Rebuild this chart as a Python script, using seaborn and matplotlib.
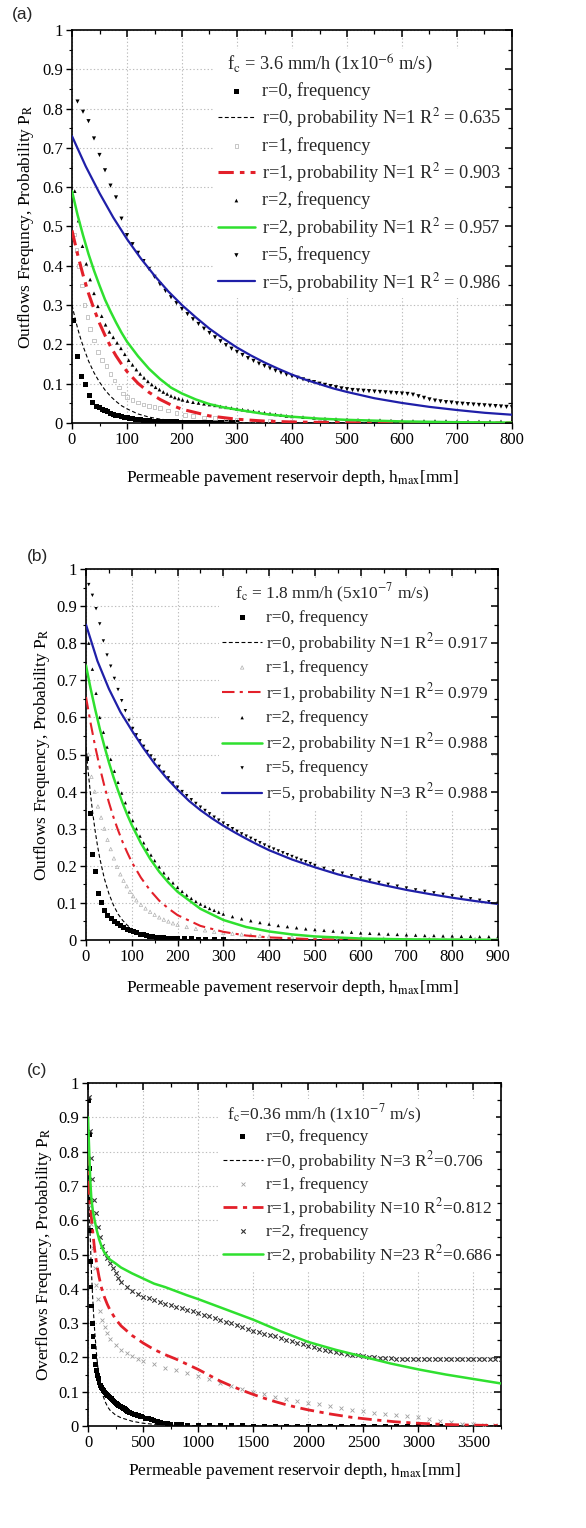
import numpy as np
import pandas as pd
import matplotlib
matplotlib.use("Agg")
import matplotlib.pyplot as plt
import seaborn as sns
from matplotlib.ticker import MultipleLocator, FuncFormatter

# ---------------- Panel (a) data: fc = 3.6 mm/h ----------------
a_r0_freq_h = [3, 10, 17, 24, 31, 38, 45, 50, 55, 60, 65, 70, 75, 80, 85, 90, 95, 100, 105, 110, 115, 120, 125, 130,
               135, 140, 145, 150, 160, 170, 180, 190, 200, 210, 220, 230, 240, 250, 260, 270, 280, 290, 300]
a_r0_freq_p = [0.26, 0.168, 0.118, 0.097, 0.069, 0.051, 0.043, 0.039, 0.035, 0.031, 0.028, 0.025, 0.022, 0.020, 0.018,
               0.016, 0.014, 0.013, 0.012, 0.011, 0.010, 0.009, 0.008, 0.007, 0.006, 0.006, 0.005, 0.005, 0.004, 0.004,
               0.003, 0.003, 0.002, 0.002, 0.002, 0.001, 0.001, 0.001, 0.001, 0.001, 0.0005, 0.0005, 0.0]
a_r0_prob_h = [0, 5, 10, 15, 20, 30, 40, 50, 60, 70, 80, 90, 100, 120, 140, 160, 180, 200, 250, 300, 400, 800]
a_r0_prob_p = [0.300, 0.270, 0.242, 0.218, 0.196, 0.158, 0.128, 0.104, 0.084, 0.068, 0.055, 0.044, 0.036, 0.023,
               0.015, 0.010, 0.0065, 0.0043, 0.0015, 0.0005, 0.0, 0.0]
a_r1_freq_h = [4, 8, 13, 18, 23, 28, 33, 40, 47, 55, 63, 70, 77, 85, 93, 100, 110, 120, 130, 140, 150, 160, 175, 190,
               205, 220, 240, 260, 280, 300, 330, 360, 400, 450, 500]
a_r1_freq_p = [0.48, 0.44, 0.40, 0.35, 0.30, 0.27, 0.24, 0.21, 0.18, 0.16, 0.145, 0.125, 0.108, 0.09, 0.075, 0.067,
               0.058, 0.052, 0.047, 0.044, 0.041, 0.038, 0.032, 0.026, 0.021, 0.017, 0.014, 0.012, 0.010, 0.008,
               0.006, 0.005, 0.004, 0.003, 0.002]
a_r1_prob_h = [0, 10, 20, 30, 40, 50, 60, 70, 80, 90, 100, 120, 140, 160, 180, 200, 250, 300, 350, 400, 500, 600, 800]
a_r1_prob_p = [0.490, 0.430, 0.377, 0.330, 0.290, 0.254, 0.223, 0.195, 0.171, 0.150, 0.131, 0.101, 0.078, 0.060,
               0.046, 0.035, 0.018, 0.0095, 0.0049, 0.0025, 0.0007, 0.0002, 0.0]
a_r2_freq_h = [5, 12, 19, 26, 33, 40, 47, 54, 61, 68, 75, 82, 89, 96, 103, 110, 117, 124, 131, 138, 145, 152, 159,
               166, 173, 180, 187, 194, 201, 210, 220, 230, 240, 250, 260, 270, 280, 290, 300, 310, 320, 330, 340,
               350, 360, 370, 380, 390, 400, 420, 440, 460, 480, 500, 520, 540, 560, 580, 600, 620, 640, 660, 680,
               700, 720, 740, 760, 780, 800]
a_r2_freq_p = [0.59, 0.515, 0.45, 0.405, 0.365, 0.33, 0.297, 0.272, 0.25, 0.232, 0.218, 0.204, 0.19, 0.175, 0.16,
               0.148, 0.136, 0.125, 0.115, 0.106, 0.098, 0.091, 0.085, 0.079, 0.074, 0.069, 0.065, 0.062, 0.059,
               0.056, 0.053, 0.051, 0.049, 0.047, 0.045, 0.042, 0.040, 0.038, 0.036, 0.034, 0.032, 0.030, 0.028,
               0.026, 0.024, 0.022, 0.020, 0.018, 0.017, 0.015, 0.013, 0.011, 0.010, 0.009, 0.008, 0.007, 0.007,
               0.006, 0.006, 0.005, 0.005, 0.005, 0.005, 0.004, 0.004, 0.004, 0.004, 0.004, 0.004]
a_r2_prob_h = [0, 10, 20, 30, 40, 50, 60, 70, 80, 90, 100, 120, 140, 160, 180, 200, 225, 250, 275, 300, 350, 400,
               450, 500, 550, 600, 700, 800]
a_r2_prob_p = [0.590, 0.530, 0.478, 0.430, 0.388, 0.350, 0.314, 0.284, 0.256, 0.230, 0.207, 0.170, 0.138, 0.112,
               0.090, 0.075, 0.060, 0.048, 0.040, 0.034, 0.023, 0.016, 0.011, 0.008, 0.006, 0.004, 0.002, 0.001]
a_r5_freq_h = [10, 20, 30, 40, 50, 60, 70, 80, 90, 100, 110, 120, 130, 140, 150, 160, 170, 180, 190, 200, 210, 220,
               230, 240, 250, 260, 270, 280, 290, 300, 310, 320, 330, 340, 350, 360, 370, 380, 390, 400, 410, 420,
               430, 440, 450, 460, 470, 480, 490, 500, 510, 520, 530, 540, 550, 560, 570, 580, 590, 600, 610, 620,
               630, 640, 650, 660, 670, 680, 690, 700, 710, 720, 730, 740, 750, 760, 770, 780, 790, 800]
a_r5_freq_p = [0.818, 0.792, 0.768, 0.724, 0.682, 0.643, 0.604, 0.574, 0.520, 0.478, 0.455, 0.433, 0.412, 0.392,
               0.372, 0.353, 0.336, 0.320, 0.305, 0.290, 0.277, 0.264, 0.252, 0.240, 0.229, 0.218, 0.208, 0.198,
               0.189, 0.181, 0.173, 0.165, 0.158, 0.151, 0.145, 0.139, 0.133, 0.128, 0.123, 0.119, 0.115, 0.111,
               0.107, 0.104, 0.100, 0.097, 0.094, 0.091, 0.088, 0.086, 0.084, 0.083, 0.082, 0.081, 0.080, 0.079,
               0.078, 0.077, 0.076, 0.075, 0.074, 0.072, 0.068, 0.064, 0.060, 0.057, 0.055, 0.053, 0.052, 0.050,
               0.049, 0.048, 0.047, 0.046, 0.045, 0.044, 0.043, 0.042, 0.041, 0.040]
a_r5_prob_h = [0, 25, 50, 75, 100, 125, 150, 175, 200, 225, 250, 275, 300, 325, 350, 375, 400, 425, 450, 475, 500,
               550, 600, 650, 700, 750, 800]
a_r5_prob_p = [0.730, 0.653, 0.585, 0.523, 0.468, 0.419, 0.375, 0.335, 0.300, 0.269, 0.240, 0.215, 0.192, 0.172,
               0.154, 0.138, 0.123, 0.110, 0.099, 0.088, 0.079, 0.063, 0.051, 0.041, 0.033, 0.026, 0.021]
a_labels = ["r=0, frequency", "r=0, probability N=1 R$^2$ = 0.635", "r=1, frequency",
            "r=1, probability N=1 R$^2$ = 0.903", "r=2, frequency", "r=2, probability N=1 R$^2$ = 0.957",
            "r=5, frequency", "r=5, probability N=1 R$^2$ = 0.986"]
a_title = "  f$_\\mathrm{c}$ = 3.6 mm/h (1x10$^{-6}$ m/s)"

# ---------------- Panel (b) data: fc = 1.8 mm/h ----------------
b_r0_freq_h = [2, 9, 14, 20, 27, 34, 41, 48, 55, 62, 69, 76, 83, 90, 97, 104, 111, 118, 125, 132, 139, 146, 153,
               160, 170, 180, 190, 200, 215, 230, 245, 260, 280, 300]
b_r0_freq_p = [0.49, 0.34, 0.23, 0.185, 0.125, 0.10, 0.08, 0.065, 0.057, 0.05, 0.045, 0.04, 0.034, 0.029, 0.025,
               0.022, 0.019, 0.016, 0.014, 0.012, 0.010, 0.009, 0.008, 0.007, 0.006, 0.005, 0.004, 0.004, 0.003,
               0.003, 0.002, 0.002, 0.001, 0.001]
b_r0_prob_h = [0, 5, 10, 15, 20, 25, 30, 40, 50, 60, 70, 80, 90, 100, 120, 140, 160, 180, 200, 250, 300, 900]
b_r0_prob_p = [0.520, 0.451, 0.391, 0.339, 0.294, 0.255, 0.221, 0.166, 0.125, 0.094, 0.070, 0.053, 0.040, 0.030,
               0.017, 0.0095, 0.0054, 0.003, 0.0017, 0.0004, 0.0001, 0.0]
b_r1_freq_h = [5, 12, 19, 26, 33, 40, 47, 54, 61, 68, 75, 82, 89, 96, 103, 110, 120, 130, 140, 150, 160, 170, 180,
               190, 200, 220, 240, 260, 280, 300, 320, 340, 360, 380, 400, 450, 500, 550, 600, 650, 700, 750, 800,
               850, 900]
b_r1_freq_p = [0.50, 0.44, 0.40, 0.36, 0.33, 0.30, 0.27, 0.245, 0.22, 0.197, 0.177, 0.16, 0.145, 0.13, 0.118, 0.107,
               0.095, 0.085, 0.076, 0.068, 0.061, 0.055, 0.050, 0.045, 0.041, 0.035, 0.030, 0.026, 0.022, 0.019,
               0.017, 0.015, 0.013, 0.011, 0.010, 0.008, 0.007, 0.006, 0.005, 0.004, 0.004, 0.003, 0.003, 0.003,
               0.003]
b_r1_prob_h = [0, 10, 20, 30, 40, 50, 60, 70, 80, 90, 100, 120, 140, 160, 180, 200, 250, 300, 350, 400, 500, 600, 900]
b_r1_prob_p = [0.655, 0.585, 0.522, 0.466, 0.416, 0.371, 0.331, 0.296, 0.264, 0.236, 0.210, 0.168, 0.134, 0.106,
               0.085, 0.067, 0.038, 0.022, 0.012, 0.007, 0.002, 0.001, 0.0]
b_r2_freq_h = [6, 14, 22, 30, 38, 46, 54, 62, 70, 78, 86, 94, 102, 110, 118, 126, 134, 142, 150, 160, 170, 180, 190,
               200, 210, 220, 230, 240, 250, 260, 270, 280, 290, 300, 320, 340, 360, 380, 400, 420, 440, 460, 480,
               500, 520, 540, 560, 580, 600, 620, 640, 660, 680, 700, 720, 740, 760, 780, 800, 820, 840, 860, 880, 900]
b_r2_freq_p = [0.80, 0.73, 0.665, 0.60, 0.56, 0.52, 0.487, 0.455, 0.425, 0.396, 0.37, 0.345, 0.322, 0.30, 0.28,
               0.262, 0.245, 0.229, 0.214, 0.197, 0.181, 0.167, 0.154, 0.142, 0.131, 0.121, 0.112, 0.104, 0.097,
               0.091, 0.085, 0.080, 0.075, 0.070, 0.063, 0.057, 0.052, 0.047, 0.043, 0.039, 0.036, 0.033, 0.030,
               0.028, 0.026, 0.024, 0.022, 0.021, 0.019, 0.018, 0.017, 0.016, 0.015, 0.014, 0.013, 0.012, 0.012,
               0.011, 0.011, 0.010, 0.010, 0.009, 0.009, 0.009]
b_r2_prob_h = [0, 10, 20, 30, 40, 50, 60, 70, 80, 90, 100, 120, 140, 160, 180, 200, 250, 300, 350, 400, 450, 500,
               600, 700, 900]
b_r2_prob_p = [0.740, 0.678, 0.622, 0.570, 0.523, 0.479, 0.439, 0.403, 0.369, 0.338, 0.310, 0.261, 0.219, 0.184,
               0.155, 0.130, 0.084, 0.054, 0.035, 0.023, 0.015, 0.0096, 0.004, 0.0017, 0.0003]
b_r5_freq_h = [6, 14, 22, 30, 38, 46, 54, 62, 70, 78, 86, 94, 102, 110, 118, 126, 134, 142, 150, 160, 170, 180, 190,
               200, 210, 220, 230, 240, 250, 260, 270, 280, 290, 300, 310, 320, 330, 340, 350, 360, 370, 380, 390,
               400, 410, 420, 430, 440, 450, 460, 470, 480, 490, 500, 520, 540, 560, 580, 600, 620, 640, 660, 680,
               700, 720, 740, 760, 780, 800, 820, 840, 860, 880, 900]
b_r5_freq_p = [0.958, 0.929, 0.893, 0.852, 0.806, 0.768, 0.738, 0.705, 0.675, 0.645, 0.618, 0.592, 0.570, 0.553,
               0.537, 0.522, 0.508, 0.496, 0.485, 0.468, 0.452, 0.437, 0.423, 0.412, 0.400, 0.389, 0.378, 0.368,
               0.358, 0.349, 0.340, 0.331, 0.323, 0.315, 0.308, 0.300, 0.293, 0.286, 0.280, 0.274, 0.268, 0.262,
               0.256, 0.250, 0.245, 0.240, 0.235, 0.230, 0.225, 0.220, 0.215, 0.211, 0.206, 0.201, 0.193, 0.186,
               0.180, 0.173, 0.167, 0.161, 0.155, 0.150, 0.145, 0.140, 0.135, 0.131, 0.127, 0.123, 0.119, 0.115,
               0.111, 0.107, 0.103, 0.099]
b_r5_prob_h = [0, 25, 50, 75, 100, 125, 150, 175, 200, 225, 250, 275, 300, 325, 350, 375, 400, 450, 500, 550, 600,
               650, 700, 750, 800, 850, 900]
b_r5_prob_p = [0.850, 0.752, 0.677, 0.615, 0.565, 0.518, 0.475, 0.438, 0.405, 0.375, 0.350, 0.328, 0.308, 0.290,
               0.273, 0.257, 0.242, 0.217, 0.196, 0.177, 0.162, 0.148, 0.135, 0.124, 0.114, 0.105, 0.097]
b_labels = ["r=0, frequency", "r=0, probability N=1 R$^2$= 0.917", "r=1, frequency",
            "r=1, probability N=1 R$^2$= 0.979", "r=2, frequency", "r=2, probability N=1 R$^2$= 0.988",
            "r=5, frequency", "r=5, probability N=3 R$^2$= 0.988"]
b_title = "   f$_\\mathrm{c}$ = 1.8 mm/h (5x10$^{-7}$ m/s)"

# ---------------- Panel (c) data: fc = 0.36 mm/h ----------------
c_r0_freq_h = [5, 10, 13, 17, 20, 24, 28, 33, 39, 45, 52, 60, 68, 76, 84, 92, 100, 110, 120, 130, 140, 150, 160,
               170, 180, 190, 200, 210, 220, 230, 240, 250, 260, 270, 280, 290, 300, 310, 320, 330, 340, 350, 360,
               370, 380, 390, 400, 410, 420, 430, 440, 450, 460, 470, 480, 490, 500, 525, 550, 575, 600, 630, 660,
               690, 720, 750, 800, 850, 900, 1000, 1100, 1200, 1300, 1400, 1500, 1600, 1700, 1800, 1900, 2000,
               2100, 2200, 2300, 2400, 2500, 2600, 2700, 2800, 2900, 3000, 3100, 3200, 3300]
c_r0_freq_p = [0.95, 0.85, 0.75, 0.66, 0.57, 0.48, 0.405, 0.35, 0.30, 0.262, 0.232, 0.203, 0.18, 0.162, 0.148,
               0.138, 0.128, 0.119, 0.113, 0.108, 0.103, 0.099, 0.096, 0.093, 0.089, 0.086, 0.082, 0.079, 0.076,
               0.073, 0.070, 0.067, 0.065, 0.062, 0.060, 0.058, 0.056, 0.054, 0.052, 0.050, 0.047, 0.045, 0.043,
               0.041, 0.039, 0.038, 0.037, 0.035, 0.034, 0.033, 0.032, 0.031, 0.030, 0.029, 0.028, 0.027, 0.026,
               0.023, 0.021, 0.018, 0.016, 0.013, 0.011, 0.009, 0.008, 0.006, 0.005, 0.004, 0.003, 0.002, 0.001,
               0.001, 0.001, 0.001, 0.0, 0.0, 0.0, 0.0, 0.0, 0.0, 0.0, 0.0, 0.0, 0.0, 0.0, 0.0, 0.0, 0.0, 0.0,
               0.0, 0.0, 0.0, 0.0]
c_r0_prob_h = [0, 10, 20, 30, 40, 50, 60, 70, 80, 90, 100, 120, 140, 160, 180, 200, 250, 300, 400, 500, 600, 800,
               1000, 1500, 3750]
c_r0_prob_p = [0.75, 0.64, 0.55, 0.46, 0.39, 0.33, 0.28, 0.24, 0.20, 0.17, 0.145, 0.11, 0.085, 0.068, 0.055, 0.046,
               0.032, 0.024, 0.014, 0.008, 0.005, 0.002, 0.001, 0.0, 0.0]
c_r1_freq_h = [10, 20, 30, 45, 60, 75, 90, 110, 130, 150, 175, 200, 250, 300, 350, 400, 450, 500, 600, 700, 800,
               900, 1000, 1100, 1200, 1300, 1400, 1500, 1600, 1700, 1800, 1900, 2000, 2100, 2200, 2300, 2400,
               2500, 2600, 2700, 2800, 2900, 3000, 3100, 3200, 3300, 3400, 3500, 3600, 3700]
c_r1_freq_p = [0.70, 0.64, 0.59, 0.52, 0.46, 0.41, 0.37, 0.335, 0.31, 0.29, 0.27, 0.255, 0.235, 0.222, 0.212,
               0.203, 0.196, 0.19, 0.18, 0.17, 0.162, 0.154, 0.146, 0.136, 0.126, 0.117, 0.108, 0.100, 0.093,
               0.086, 0.080, 0.074, 0.068, 0.063, 0.058, 0.053, 0.048, 0.043, 0.039, 0.035, 0.032, 0.029, 0.025,
               0.021, 0.016, 0.011, 0.007, 0.005, 0.004, 0.003]
c_r1_prob_h = [0, 10, 20, 30, 45, 60, 80, 100, 125, 150, 175, 200, 250, 300, 400, 500, 600, 700, 800, 900, 1000,
               1100, 1200, 1300, 1400, 1500, 1600, 1700, 1800, 1900, 2000, 2200, 2400, 2600, 2800, 3000, 3200,
               3400, 3600, 3750]
c_r1_prob_p = [0.80, 0.69, 0.645, 0.61, 0.56, 0.515, 0.47, 0.435, 0.40, 0.375, 0.355, 0.338, 0.312, 0.292, 0.264,
               0.242, 0.223, 0.208, 0.195, 0.18, 0.165, 0.148, 0.131, 0.117, 0.104, 0.092, 0.081, 0.071, 0.062,
               0.054, 0.047, 0.035, 0.025, 0.018, 0.012, 0.008, 0.005, 0.003, 0.002, 0.001]
c_r2_freq_h = [5, 15, 25, 35, 50, 70, 90, 110, 130, 150, 175, 200, 225, 250, 275, 300, 350, 400, 450, 500, 550,
               600, 650, 700, 750, 800, 850, 900, 950, 1000, 1050, 1100, 1150, 1200, 1250, 1300, 1350, 1400, 1450,
               1500, 1550, 1600, 1650, 1700, 1750, 1800, 1850, 1900, 1950, 2000, 2050, 2100, 2150, 2200, 2250,
               2300, 2350, 2400, 2450, 2500, 2550, 2600, 2650, 2700, 2750, 2800, 2850, 2900, 2950, 3000, 3050,
               3100, 3150, 3200, 3250, 3300, 3350, 3400, 3450, 3500, 3550, 3600, 3650, 3700, 3750]
c_r2_freq_p = [0.96, 0.86, 0.78, 0.72, 0.66, 0.62, 0.58, 0.55, 0.525, 0.505, 0.49, 0.475, 0.46, 0.445, 0.432,
               0.42, 0.405, 0.395, 0.385, 0.377, 0.372, 0.367, 0.362, 0.357, 0.352, 0.348, 0.344, 0.339, 0.334,
               0.330, 0.325, 0.320, 0.314, 0.309, 0.304, 0.299, 0.294, 0.288, 0.283, 0.278, 0.273, 0.269, 0.265,
               0.261, 0.257, 0.252, 0.247, 0.243, 0.238, 0.234, 0.229, 0.225, 0.222, 0.219, 0.216, 0.213, 0.210,
               0.208, 0.206, 0.204, 0.202, 0.200, 0.199, 0.198, 0.197, 0.196, 0.195, 0.195, 0.194, 0.194, 0.194,
               0.194, 0.194, 0.194, 0.194, 0.194, 0.194, 0.194, 0.194, 0.194, 0.194, 0.194, 0.194, 0.194, 0.194]
c_r2_prob_h = [0, 10, 20, 30, 45, 60, 80, 100, 125, 150, 200, 250, 300, 400, 500, 600, 700, 800, 900, 1000, 1100,
               1200, 1300, 1400, 1500, 1750, 2000, 2250, 2500, 2750, 3000, 3250, 3500, 3750]
c_r2_prob_p = [0.90, 0.81, 0.72, 0.665, 0.625, 0.60, 0.57, 0.545, 0.522, 0.505, 0.485, 0.474, 0.462, 0.445, 0.43,
               0.415, 0.405, 0.393, 0.381, 0.37, 0.358, 0.346, 0.334, 0.322, 0.31, 0.276, 0.245, 0.222, 0.202,
               0.182, 0.165, 0.150, 0.137, 0.124]
c_labels = ["r=0, frequency", "r=0, probability N=3 R$^2$=0.706", "r=1, frequency",
            "r=1, probability N=10 R$^2$=0.812", "r=2, frequency", "r=2, probability N=23 R$^2$=0.686"]
c_title = " f$_\\mathrm{c}$=0.36 mm/h (1x10$^{-7}$ m/s)"

XLABEL = "Permeable pavement reservoir depth, h$_\\mathrm{max}$[mm]"

# ---------------- styling ----------------
sns.set_theme(style="white")
plt.rcParams['font.family'] = ['Liberation Serif', 'DejaVu Serif']
plt.rcParams['mathtext.fontset'] = 'stix'
plt.rcParams['axes.edgecolor'] = 'black'
plt.rcParams['axes.linewidth'] = 1.2

BLUE = '#1f1fa8'
GREEN = '#2fe02f'
RED = '#e3202a'
DASH = (0, (3.5, 2.2))

fig = plt.figure(figsize=(5.86, 15.28), dpi=100)
W, H = 586.0, 1528.0


def add_ax(left, top, right, bottom):
    return fig.add_axes([left / W, 1 - bottom / H, (right - left) / W, (bottom - top) / H])


def scatter(ax, h, p, label, **kw):
    sns.scatterplot(x=h, y=p, ax=ax, label=label, legend=False, zorder=3, **kw)


def line(ax, h, p, label, **kw):
    sns.lineplot(x=h, y=p, ax=ax, label=label, legend=False, errorbar=None, zorder=4, **kw)


def set_ticks(axis, major, minor):
    axis.set_major_locator(MultipleLocator(major))
    axis.set_minor_locator(MultipleLocator(minor))


def finish(ax, xmax, xmajor, ylabel, labels, title, leg, ylab_x, xlab_y):
    ax.set_xlim(0, xmax)
    ax.set_ylim(0, 1)
    set_ticks(ax.xaxis, xmajor, xmajor / 2)
    set_ticks(ax.yaxis, 0.1, 0.05)
    ax.yaxis.set_major_formatter(FuncFormatter(lambda v, _: f"{round(v, 2):g}"))
    ax.tick_params(which='both', direction='out', bottom=True, left=True, top=False, right=False,
                   colors='black', labelsize=12, pad=2)
    ax.tick_params(which='major', length=4.5, width=1.0)
    ax.tick_params(which='minor', length=2.5, width=0.8)
    for s in ax.spines.values():
        s.set_color('black')
        s.set_linewidth(1.2)
    # inward ticks on the top and right frame
    tx = ax.twiny()
    tx.set_xlim(0, xmax)
    set_ticks(tx.xaxis, xmajor, xmajor / 2)
    tx.tick_params(which='both', direction='in', top=True, bottom=False, labeltop=False, labelbottom=False,
                   colors='black')
    tx.tick_params(which='major', length=5, width=1.1)
    tx.tick_params(which='minor', length=3, width=0.9)
    ty = ax.twinx()
    ty.set_ylim(0, 1)
    set_ticks(ty.yaxis, 0.1, 0.05)
    ty.tick_params(which='both', direction='in', right=True, left=False, labelright=False, labelleft=False,
                   colors='black')
    ty.tick_params(which='major', length=5, width=1.1)
    ty.tick_params(which='minor', length=3, width=0.9)
    for t in (tx, ty):
        t.grid(False)
        for s in t.spines.values():
            s.set_visible(False)
    ax.grid(True, which='major', linestyle=(0, (1.2, 2.0)), color='#bdbdbd', linewidth=0.8)
    ax.set_axisbelow(True)
    ax.set_ylabel(ylabel, fontsize=12.5, color='black')
    ax.yaxis.set_label_coords(ylab_x, 0.5)
    ax.set_xlabel(XLABEL, fontsize=12.5, color='black')
    ax.xaxis.set_label_coords(0.5, xlab_y)
    handles, labs = ax.get_legend_handles_labels()
    lookup = dict(zip(labs, handles))
    lg = ty.legend([lookup[l] for l in labels], labels, title=title, loc='upper right',
                   bbox_to_anchor=leg['anchor'], fontsize=leg['fs'], title_fontsize=leg['fs'], frameon=True,
                   facecolor='white', edgecolor='none', framealpha=1, fancybox=False,
                   handlelength=leg['hl'], handletextpad=leg['pad'], labelspacing=leg['ls'], borderpad=0.2,
                   borderaxespad=0.0, scatterpoints=1, alignment='left')
    lg.set_zorder(10)


# ----- (a) -----
axa = add_ax(72, 30, 512, 423)
scatter(axa, a_r0_freq_h, a_r0_freq_p, a_labels[0], marker='s', s=13, color='black', edgecolor='none')
line(axa, a_r0_prob_h, a_r0_prob_p, a_labels[1], color='black', linewidth=0.8, linestyle=DASH)
scatter(axa, a_r1_freq_h, a_r1_freq_p, a_labels[2], marker='s', s=7, facecolor='none', edgecolor='#b0b0b0',
        linewidth=0.5)
line(axa, a_r1_prob_h, a_r1_prob_p, a_labels[3], color=RED, linewidth=2.2, linestyle=(0, (5, 2, 1.5, 2)))
scatter(axa, a_r2_freq_h, a_r2_freq_p, a_labels[4], marker='^', s=7, color='black', edgecolor='none')
line(axa, a_r2_prob_h, a_r2_prob_p, a_labels[5], color=GREEN, linewidth=1.8)
scatter(axa, a_r5_freq_h, a_r5_freq_p, a_labels[6], marker='v', s=9, color='black', edgecolor='none')
line(axa, a_r5_prob_h, a_r5_prob_p, a_labels[7], color=BLUE, linewidth=1.6)
finish(axa, 800, 100, "Outflows Frequncy, Probability P$_\\mathrm{R}$", a_labels, a_title,
       dict(anchor=(0.985, 0.952), fs=13.2, hl=2.05, pad=0.38, ls=0.35), -0.082, -0.115)

# ----- (b) -----
axb = add_ax(86, 569, 498, 940)
scatter(axb, b_r0_freq_h, b_r0_freq_p, b_labels[0], marker='s', s=13, color='black', edgecolor='none')
line(axb, b_r0_prob_h, b_r0_prob_p, b_labels[1], color='black', linewidth=0.8, linestyle=DASH)
scatter(axb, b_r1_freq_h, b_r1_freq_p, b_labels[2], marker='^', s=6, facecolor='none', edgecolor='#b0b0b0',
        linewidth=0.5)
line(axb, b_r1_prob_h, b_r1_prob_p, b_labels[3], color=RED, linewidth=1.5, linestyle=(0, (6, 2.5, 1.5, 2.5)))
scatter(axb, b_r2_freq_h, b_r2_freq_p, b_labels[4], marker='^', s=6, color='black', edgecolor='none')
line(axb, b_r2_prob_h, b_r2_prob_p, b_labels[5], color=GREEN, linewidth=1.8)
scatter(axb, b_r5_freq_h, b_r5_freq_p, b_labels[6], marker='v', s=6, color='black', edgecolor='none')
line(axb, b_r5_prob_h, b_r5_prob_p, b_labels[7], color=BLUE, linewidth=1.6)
finish(axb, 900, 100, "Outflows Frequency, Probability P$_\\mathrm{R}$", b_labels, b_title,
       dict(anchor=(0.984, 0.976), fs=12.5, hl=2.3, pad=0.2, ls=0.29), -0.083, -0.102)

# ----- (c) -----
axc = add_ax(88, 1083, 501, 1426)
scatter(axc, c_r0_freq_h, c_r0_freq_p, c_labels[0], marker='s', s=12, color='black', edgecolor='none')
line(axc, c_r0_prob_h, c_r0_prob_p, c_labels[1], color='black', linewidth=0.8, linestyle=DASH)
scatter(axc, c_r1_freq_h, c_r1_freq_p, c_labels[2], marker='x', s=8, color='#a0a0a0', linewidth=0.6)
line(axc, c_r1_prob_h, c_r1_prob_p, c_labels[3], color=RED, linewidth=2.0, linestyle=(0, (5, 2, 1.5, 2)))
scatter(axc, c_r2_freq_h, c_r2_freq_p, c_labels[4], marker='x', s=10, color='#333333', linewidth=0.8)
line(axc, c_r2_prob_h, c_r2_prob_p, c_labels[5], color=GREEN, linewidth=1.8)
finish(axc, 3750, 500, "Overflows Frequncy, Probability P$_\\mathrm{R}$", c_labels, c_title,
       dict(anchor=(0.989, 0.953), fs=12.5, hl=2.3, pad=0.2, ls=0.2), -0.082, -0.102)

for txt, x, y in [("(a)", 23, 15), ("(b)", 37, 557), ("(c)", 37, 1070)]:
    fig.text(x / W, 1 - y / H, txt, fontfamily='Liberation Sans', fontsize=12.5, ha='center', va='center')

fig.savefig("out.png", dpi=100)
